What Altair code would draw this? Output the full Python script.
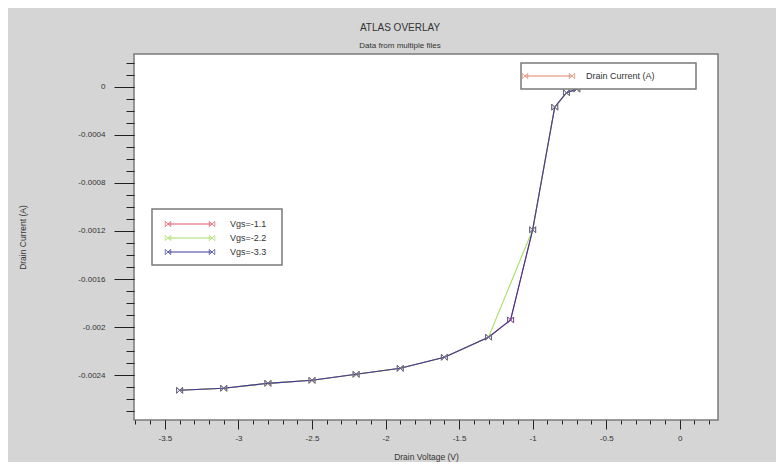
import altair as alt
import pandas as pd

# ---- data ----
series_names = ["Vgs=-1.1", "Vgs=-2.2", "Vgs=-3.3"]
series_colors = ["#e0566a", "#a6de62", "#3a3a9a"]

vd_11 = [-3.4, -3.1, -2.8, -2.5, -2.2, -1.9, -1.6, -1.3, -1.15, -1.0, -0.85, -0.77, -0.7]
id_11 = [-0.002525, -0.002508, -0.002467, -0.002442, -0.002392, -0.002342, -0.00225,
         -0.002083, -0.00194, -0.00119, -0.00017, -0.00005, -0.00002]

vd_22 = [-3.4, -3.1, -2.8, -2.5, -2.2, -1.9, -1.6, -1.3, -1.0, -0.85, -0.77, -0.7]
id_22 = [-0.002525, -0.002508, -0.002467, -0.002442, -0.002392, -0.002342, -0.00225,
         -0.002083, -0.00119, -0.00017, -0.00005, -0.00002]

vd_33 = [-3.4, -3.1, -2.8, -2.5, -2.2, -1.9, -1.6, -1.3, -1.15, -1.0, -0.85, -0.77, -0.7]
id_33 = [-0.002525, -0.002508, -0.002467, -0.002442, -0.002392, -0.002342, -0.00225,
         -0.002083, -0.00194, -0.00119, -0.00017, -0.00005, -0.00002]

x_major = [-3.5, -3, -2.5, -2, -1.5, -1, -0.5, 0]
x_minor = [round(-3.7 + 0.1 * i, 1) for i in range(40)]
y_major = [0, -0.0004, -0.0008, -0.0012, -0.0016, -0.002, -0.0024]
y_minor = [round(0.0002 - 0.0001 * i, 4) for i in range(30)]

legend_top_label = "Drain Current (A)"
legend_top_color = "#d9866b"

rows = []
for name, xs, ys in [(series_names[0], vd_11, id_11),
                     (series_names[1], vd_22, id_22),
                     (series_names[2], vd_33, id_33)]:
    for a, b in zip(xs, ys):
        rows.append({"vd": a, "id": b, "series": name})
df = pd.DataFrame(rows)

FONT = "Liberation Sans"
MARK = "M-1,-1L1,1M-1,1L1,-1M-1,-1L-1,1M1,-1L1,1"
XDOM = [-3.71, 0.26]
YDOM = [-0.002772, 0.000272]

color = alt.Color("series:N", scale=alt.Scale(domain=series_names, range=series_colors), legend=None)

x_main = alt.X("vd:Q", scale=alt.Scale(domain=XDOM, nice=False, zero=False),
               axis=alt.Axis(values=x_major, labelExpr="'' + datum.value", tickSize=9,
                             labelPadding=5, domain=False, grid=False, orient="bottom",
                             title="Drain Voltage (V)", titleY=36, titleBaseline="middle",
                             titleFontSize=8.5, titleFontWeight="normal", titleColor="#333",
                             labelFontSize=8, labelColor="#333", tickColor="#222",
                             labelFont=FONT, titleFont=FONT))
y_main = alt.Y("id:Q", scale=alt.Scale(domain=YDOM, nice=False, zero=False),
               axis=alt.Axis(values=y_major, labelExpr="'' + datum.value", tickSize=20,
                             labelPadding=9, domain=False, grid=False, orient="left",
                             title="Drain Current (A)", titleX=-112, titleY=183,
                             titleBaseline="middle", titleAngle=270,
                             titleFontSize=8.5, titleFontWeight="normal", titleColor="#333",
                             labelFontSize=8, labelColor="#333", tickColor="#222",
                             labelFont=FONT, titleFont=FONT))

lines = alt.Chart(df).mark_line(strokeWidth=1.1).encode(
    x=x_main, y=y_main, color=color, order="vd:Q"
)

x_min = alt.X("vd:Q", scale=alt.Scale(domain=XDOM, nice=False, zero=False),
              axis=alt.Axis(values=x_minor, labels=False, tickSize=4, domain=False, grid=False,
                            orient="bottom", title=None, tickColor="#222"))
y_min = alt.Y("id:Q", scale=alt.Scale(domain=YDOM, nice=False, zero=False),
              axis=alt.Axis(values=y_minor, labels=False, tickSize=8, domain=False, grid=False,
                            orient="left", title=None, tickColor="#222"))

points = alt.Chart(df).mark_point(shape=MARK, size=36, strokeWidth=1, filled=False).encode(
    x=x_min, y=y_min, color=color
)

one = pd.DataFrame({"k": [0]})

def box(x1, x2, y1, y2):
    return alt.Chart(one).mark_rect(fill="white", stroke="#7a7a7a", strokeWidth=1.5).encode(
        x=alt.value(x1), x2=alt.value(x2), y=alt.value(y1), y2=alt.value(y2))

def entry(xa, xb, y, col, label, xt):
    r = alt.Chart(one).mark_rule(color=col, strokeWidth=1).encode(
        x=alt.value(xa), x2=alt.value(xb), y=alt.value(y))
    p1 = alt.Chart(one).mark_point(shape=MARK, size=30, color=col, strokeWidth=1).encode(
        x=alt.value(xa), y=alt.value(y))
    p2 = alt.Chart(one).mark_point(shape=MARK, size=30, color=col, strokeWidth=1).encode(
        x=alt.value(xb), y=alt.value(y))
    t = alt.Chart(one).mark_text(text=label, align="left", baseline="middle", fontSize=9,
                                 font=FONT, color="#333").encode(
        x=alt.value(xt), y=alt.value(y))
    return [r, p1, p2, t]

deco = [box(387, 562, 9, 35)]
deco += entry(391, 438, 22, legend_top_color, legend_top_label, 452)
deco += [box(18, 148, 155, 211)]
for i, (n, c) in enumerate(zip(series_names, series_colors)):
    deco += entry(34, 78, 170 + 14 * i, c, n, 96)

chart = alt.layer(lines, points, *deco).resolve_axis(
    x="independent", y="independent"
).properties(
    width=584, height=366,
    autosize=alt.AutoSizeParams(type="none"),
    padding={"left": 126, "top": 46, "right": 58, "bottom": 42},
    background="#d5d5d5",
    title=alt.TitleParams("ATLAS OVERLAY", subtitle="Data from multiple files",
                          fontSize=10, subtitleFontSize=8, fontWeight="normal",
                          color="#333", subtitleColor="#333", anchor="middle",
                          font=FONT, subtitleFont=FONT, dx=-26, offset=4,
                          subtitlePadding=9),
).configure_view(fill="white", stroke="#7a7a7a", strokeWidth=1.5)

chart.save("out.html", embed_options={"renderer": "svg", "actions": False})
